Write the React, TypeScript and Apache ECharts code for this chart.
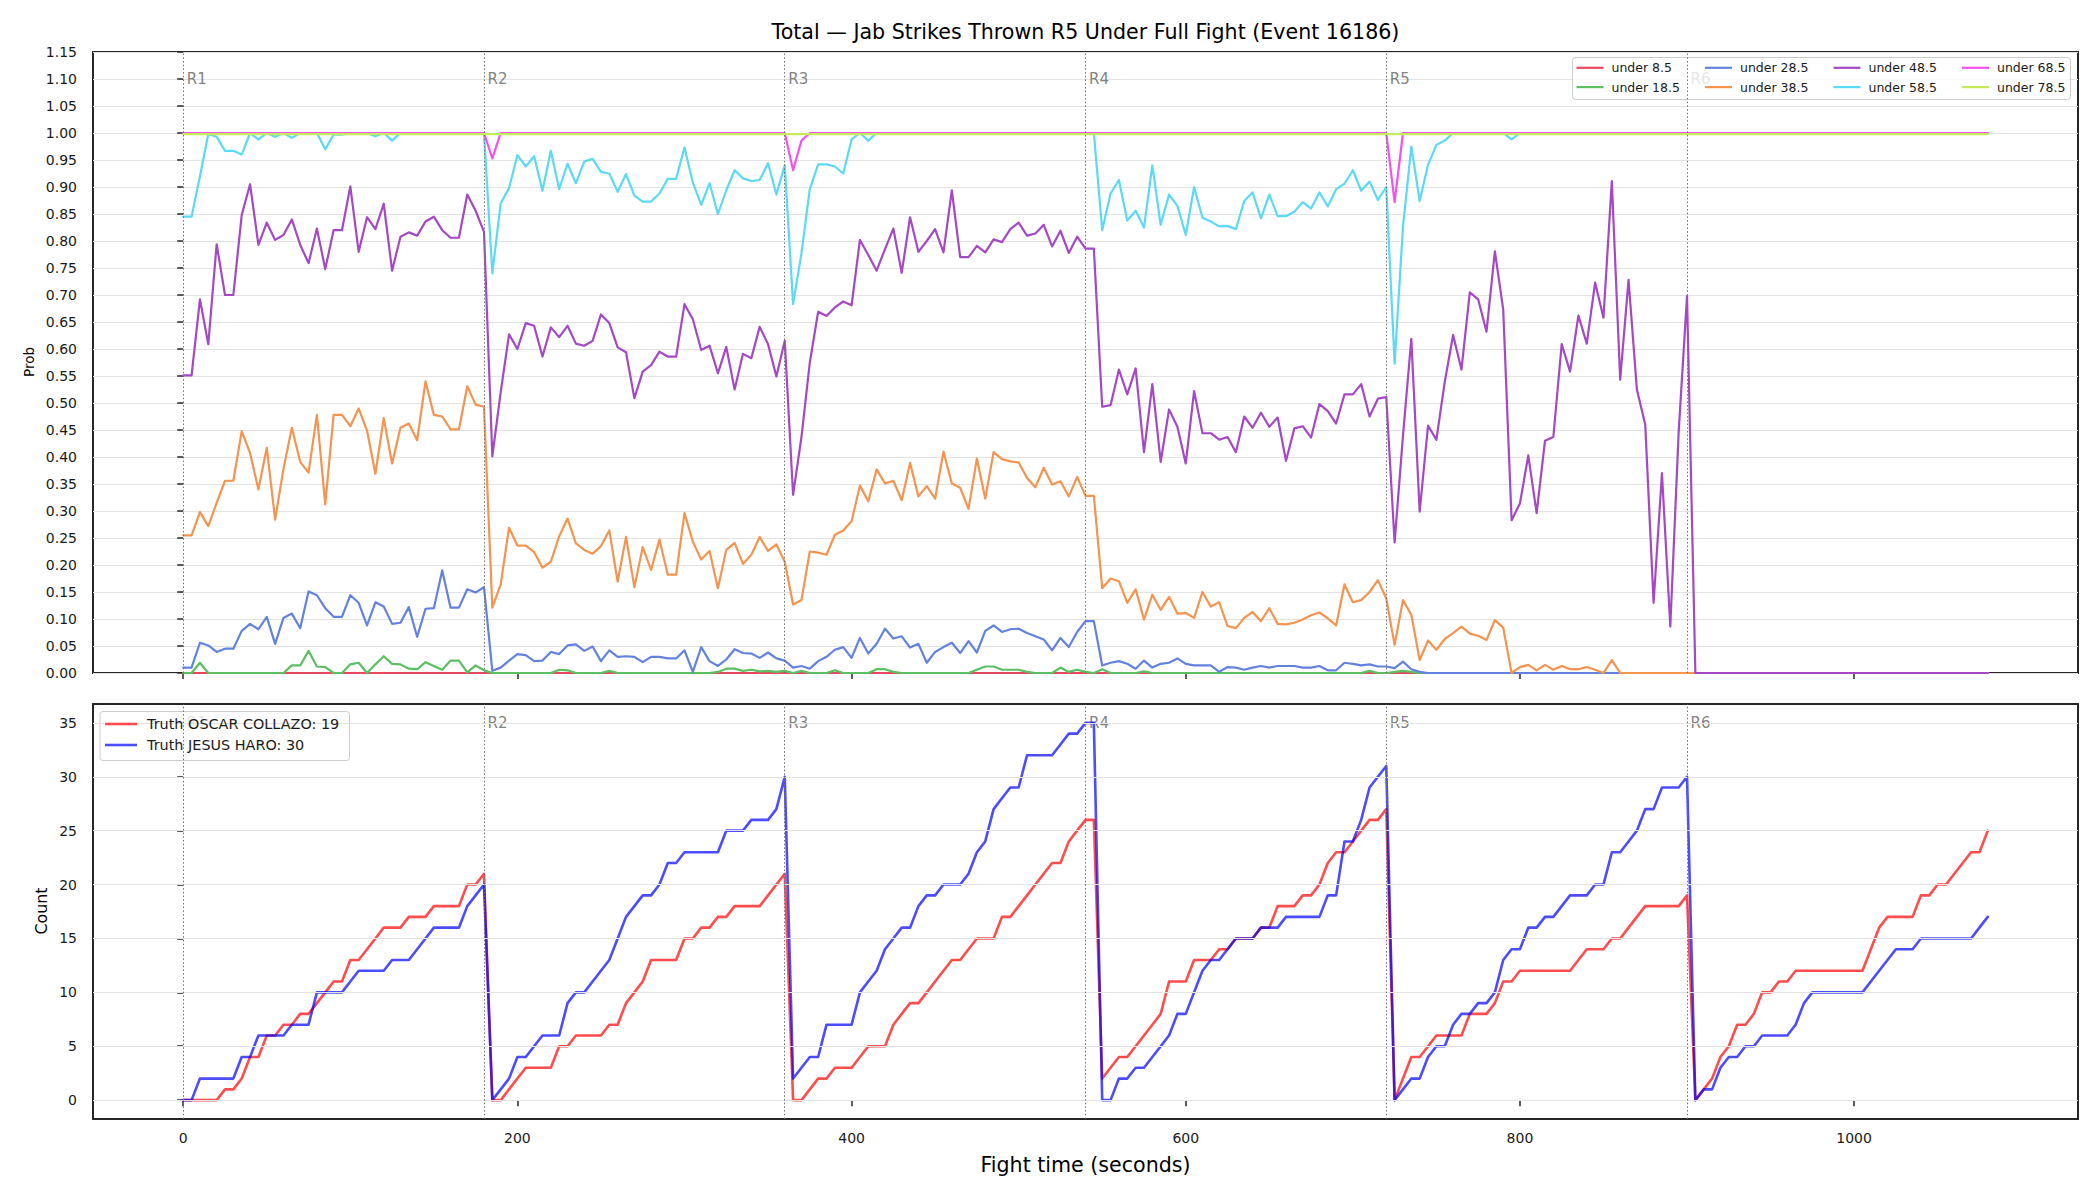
import React, { useEffect, useRef } from "react";
import * as echarts from "echarts";

const FONT = "DejaVu Sans";
const TITLE = "Total — Jab Strikes Thrown R5 Under Full Fight (Event 16186)";
const X_LABEL = "Fight time (seconds)";
const Y_LABEL_TOP = "Prob";
const Y_LABEL_BOTTOM = "Count";

const STEP_SECONDS = 5;
const N_POINTS = 217; // 0..1080 s
const TIMES = Array.from({ length: N_POINTS }, (_, i) => i * STEP_SECONDS);

const ROUND_STARTS = [0, 180, 360, 540, 720, 900];
const ROUND_NAMES = ["R1", "R2", "R3", "R4", "R5", "R6"];
const ROUND_LABEL_Y_TOP = 1.1;
const ROUND_LABEL_Y_BOTTOM = 35;
const X_TICKS = [0, 200, 400, 600, 800, 1000];
const COUNT_TICKS = [0, 5, 10, 15, 20, 25, 30, 35];

const LINE_NAMES = ["under 8.5", "under 18.5", "under 28.5", "under 38.5", "under 48.5", "under 58.5", "under 68.5", "under 78.5"];
const LINE_COLORS = ["#e8475f", "#5cbf62", "#6382e0", "#f5934f", "#a548c6", "#5bd9f5", "#f551ec", "#c6ea5c"];

// constant / sparse lines (read as flat segments)
const U08_POINTS = [[0, 0], [1080, 0]];
const U68_POINTS = [[0, 1], [180, 1], [185, 0.953], [190, 1], [360, 1], [365, 0.931], [370, 0.986], [375, 1], [720, 1], [725, 0.872], [730, 1], [1080, 1]];
const U78_POINTS = [[0, 0.998], [1080, 0.998]];

const U18 = [
  0, 0, 0.019, 0, 0, 0, 0, 0, 0, 0,
  0, 0, 0, 0.014, 0.014, 0.041, 0.012, 0.011, 0, 0,
  0.016, 0.019, 0, 0.016, 0.031, 0.017, 0.016, 0.008, 0.007, 0.02,
  0.013, 0.006, 0.023, 0.023, 0.001, 0.014, 0.005,
  0, 0, 0, 0, 0, 0, 0, 0, 0.006, 0.005,
  0, 0, 0, 0, 0.004, 0, 0, 0, 0, 0,
  0, 0, 0, 0, 0, 0, 0, 0.002, 0.008, 0.008,
  0.004, 0.006, 0.003, 0.004, 0.002, 0.004,
  0, 0.004, 0, 0, 0, 0.005, 0, 0, 0, 0,
  0.007, 0.007, 0.002, 0, 0, 0, 0, 0, 0, 0,
  0, 0, 0.006, 0.012, 0.012, 0.006, 0.006, 0.006, 0.002, 0,
  0, 0, 0.01, 0.002, 0.006, 0.002,
  0, 0.007, 0, 0, 0, 0, 0.003, 0, 0, 0,
  0, 0, 0, 0, 0, 0, 0, 0, 0, 0,
  0, 0, 0, 0, 0, 0, 0, 0, 0, 0,
  0, 0, 0, 0.004, 0, 0,
  0.002, 0.004, 0.002, 0, 0, 0, 0, 0, 0, 0,
  0, 0, 0, 0, 0, 0, 0, 0, 0, 0,
  0, 0, 0, 0, 0, 0, 0, 0, 0, 0,
  0, 0, 0, 0, 0, 0,
  0, 0, 0, 0, 0, 0, 0, 0, 0, 0,
  0, 0, 0, 0, 0, 0, 0, 0, 0, 0,
  0, 0, 0, 0, 0, 0, 0, 0, 0, 0,
  0, 0, 0, 0, 0, 0,
];

const U28 = [
  0.01, 0.01, 0.056, 0.051, 0.039, 0.045, 0.045, 0.078, 0.091, 0.081,
  0.104, 0.054, 0.102, 0.11, 0.083, 0.151, 0.144, 0.12, 0.104, 0.104,
  0.144, 0.13, 0.088, 0.131, 0.123, 0.091, 0.093, 0.122, 0.067, 0.119,
  0.12, 0.19, 0.121, 0.121, 0.155, 0.149, 0.159,
  0.004, 0.01, 0.023, 0.035, 0.033, 0.022, 0.023, 0.039, 0.035, 0.051,
  0.053, 0.041, 0.049, 0.022, 0.042, 0.03, 0.031, 0.03, 0.02, 0.03,
  0.03, 0.027, 0.027, 0.042, 0.002, 0.048, 0.022, 0.013, 0.025, 0.044,
  0.037, 0.036, 0.028, 0.038, 0.027, 0.023,
  0.01, 0.013, 0.008, 0.022, 0.03, 0.043, 0.048, 0.028, 0.065, 0.036,
  0.054, 0.082, 0.064, 0.068, 0.047, 0.054, 0.019, 0.039, 0.048, 0.056,
  0.037, 0.059, 0.038, 0.078, 0.088, 0.076, 0.081, 0.082, 0.074, 0.068,
  0.062, 0.042, 0.065, 0.048, 0.076, 0.096,
  0.096, 0.014, 0.019, 0.022, 0.017, 0.008, 0.023, 0.01, 0.017, 0.019,
  0.027, 0.017, 0.014, 0.014, 0.014, 0.002, 0.011, 0.01, 0.006, 0.01,
  0.013, 0.01, 0.013, 0.013, 0.013, 0.01, 0.01, 0.013, 0.005, 0.005,
  0.019, 0.017, 0.014, 0.016, 0.012, 0.012,
  0.009, 0.021, 0.007, 0.002, 0, 0, 0, 0, 0, 0,
  0, 0, 0, 0, 0, 0, 0, 0, 0, 0,
  0, 0, 0, 0, 0, 0, 0, 0, 0, 0,
  0, 0, 0, 0, 0, 0,
  0, 0, 0, 0, 0, 0, 0, 0, 0, 0,
  0, 0, 0, 0, 0, 0, 0, 0, 0, 0,
  0, 0, 0, 0, 0, 0, 0, 0, 0, 0,
  0, 0, 0, 0, 0, 0,
];

const U38 = [
  0.255, 0.255, 0.298, 0.272, 0.315, 0.356, 0.356, 0.448, 0.407, 0.34,
  0.417, 0.284, 0.378, 0.454, 0.391, 0.371, 0.478, 0.312, 0.478, 0.478,
  0.457, 0.49, 0.449, 0.369, 0.472, 0.388, 0.454, 0.462, 0.431, 0.54,
  0.478, 0.475, 0.451, 0.451, 0.531, 0.497, 0.493,
  0.121, 0.164, 0.269, 0.236, 0.236, 0.224, 0.195, 0.206, 0.253, 0.286,
  0.24, 0.228, 0.221, 0.235, 0.264, 0.169, 0.252, 0.159, 0.233, 0.191,
  0.247, 0.182, 0.182, 0.296, 0.243, 0.21, 0.226, 0.157, 0.228, 0.241,
  0.202, 0.219, 0.252, 0.226, 0.238, 0.206,
  0.127, 0.135, 0.225, 0.223, 0.219, 0.256, 0.264, 0.281, 0.347, 0.318,
  0.377, 0.351, 0.356, 0.32, 0.389, 0.327, 0.346, 0.323, 0.41, 0.351,
  0.343, 0.304, 0.397, 0.323, 0.409, 0.396, 0.392, 0.39, 0.361, 0.344,
  0.38, 0.349, 0.355, 0.327, 0.363, 0.328,
  0.328, 0.157, 0.175, 0.17, 0.13, 0.155, 0.099, 0.145, 0.117, 0.141,
  0.11, 0.111, 0.102, 0.15, 0.123, 0.131, 0.087, 0.083, 0.102, 0.113,
  0.096, 0.12, 0.091, 0.09, 0.093, 0.099, 0.107, 0.112, 0.101, 0.088,
  0.164, 0.131, 0.135, 0.15, 0.172, 0.138,
  0.052, 0.135, 0.108, 0.024, 0.06, 0.043, 0.063, 0.074, 0.086, 0.073,
  0.069, 0.061, 0.098, 0.084, 0, 0.011, 0.015, 0.005, 0.015, 0.006,
  0.013, 0.007, 0.007, 0.011, 0.006, 0, 0.024, 0, 0, 0,
  0, 0, 0, 0, 0, 0,
  0, 0, 0, 0, 0, 0, 0, 0, 0, 0,
  0, 0, 0, 0, 0, 0, 0, 0, 0, 0,
  0, 0, 0, 0, 0, 0, 0, 0, 0, 0,
  0, 0, 0, 0, 0, 0,
];

const U48 = [
  0.551, 0.551, 0.692, 0.609, 0.794, 0.7, 0.7, 0.848, 0.905, 0.793,
  0.834, 0.802, 0.811, 0.84, 0.793, 0.759, 0.823, 0.748, 0.82, 0.82,
  0.901, 0.78, 0.844, 0.822, 0.869, 0.745, 0.808, 0.816, 0.81, 0.836,
  0.845, 0.82, 0.806, 0.806, 0.886, 0.856, 0.817,
  0.401, 0.52, 0.627, 0.6, 0.648, 0.643, 0.586, 0.64, 0.622, 0.643,
  0.61, 0.606, 0.615, 0.664, 0.648, 0.603, 0.594, 0.509, 0.558, 0.57,
  0.595, 0.586, 0.586, 0.683, 0.655, 0.598, 0.606, 0.555, 0.604, 0.525,
  0.591, 0.583, 0.641, 0.609, 0.549, 0.615,
  0.33, 0.437, 0.575, 0.669, 0.661, 0.677, 0.688, 0.681, 0.802, 0.774,
  0.745, 0.785, 0.823, 0.741, 0.844, 0.78, 0.8, 0.822, 0.779, 0.894,
  0.77, 0.77, 0.791, 0.779, 0.803, 0.798, 0.822, 0.834, 0.81, 0.814,
  0.83, 0.79, 0.819, 0.778, 0.808, 0.786,
  0.786, 0.493, 0.496, 0.562, 0.516, 0.564, 0.409, 0.535, 0.391, 0.488,
  0.456, 0.388, 0.522, 0.444, 0.444, 0.432, 0.437, 0.409, 0.475, 0.454,
  0.482, 0.456, 0.473, 0.393, 0.453, 0.457, 0.436, 0.498, 0.485, 0.462,
  0.516, 0.516, 0.535, 0.475, 0.508, 0.511,
  0.242, 0.439, 0.619, 0.299, 0.458, 0.432, 0.539, 0.626, 0.562, 0.705,
  0.692, 0.632, 0.781, 0.673, 0.283, 0.314, 0.403, 0.296, 0.43, 0.437,
  0.609, 0.558, 0.662, 0.61, 0.723, 0.658, 0.911, 0.543, 0.728, 0.525,
  0.46, 0.13, 0.37, 0.086, 0.446, 0.698,
  0, 0, 0, 0, 0, 0, 0, 0, 0, 0,
  0, 0, 0, 0, 0, 0, 0, 0, 0, 0,
  0, 0, 0, 0, 0, 0, 0, 0, 0, 0,
  0, 0, 0, 0, 0, 0,
];

const U58 = [
  0.845, 0.845, 0.92, 0.998, 0.993, 0.967, 0.967, 0.96, 1, 0.988,
  1, 0.993, 1, 0.991, 1, 1, 1, 0.97, 0.997, 0.997,
  1, 1, 1, 0.994, 1, 0.986, 1, 1, 1, 1,
  1, 1, 1, 1, 1, 1, 1,
  0.74, 0.87, 0.898, 0.959, 0.938, 0.957, 0.893, 0.967, 0.896, 0.943,
  0.907, 0.947, 0.952, 0.928, 0.925, 0.891, 0.924, 0.884, 0.873, 0.873,
  0.888, 0.915, 0.915, 0.973, 0.908, 0.867, 0.907, 0.85, 0.894, 0.931,
  0.916, 0.911, 0.913, 0.944, 0.886, 0.94,
  0.683, 0.777, 0.896, 0.942, 0.942, 0.938, 0.925, 0.988, 1, 0.986,
  1, 1, 1, 1, 1, 1, 1, 1, 1, 1,
  1, 1, 1, 1, 1, 1, 1, 1, 1, 1,
  1, 1, 1, 1, 1, 1,
  1, 0.82, 0.888, 0.913, 0.838, 0.856, 0.825, 0.94, 0.83, 0.886,
  0.865, 0.811, 0.9, 0.843, 0.836, 0.827, 0.828, 0.822, 0.874, 0.89,
  0.842, 0.886, 0.846, 0.846, 0.854, 0.872, 0.86, 0.89, 0.864, 0.896,
  0.906, 0.931, 0.893, 0.91, 0.876, 0.9,
  0.573, 0.826, 0.975, 0.874, 0.941, 0.978, 0.986, 1, 1, 1,
  1, 1, 1, 1, 0.988, 1, 1, 1, 1, 1,
  1, 1, 1, 1, 1, 1, 1, 1, 1, 1,
  1, 1, 1, 1, 1, 1,
  1, 1, 1, 1, 1, 1, 1, 1, 1, 1,
  1, 1, 1, 1, 1, 1, 1, 1, 1, 1,
  1, 1, 1, 1, 1, 1, 1, 1, 1, 1,
  1, 1, 1, 1, 1, 1,
];

const COUNT_OSCAR = [
  0, 0, 0, 0, 0, 1, 1, 2, 4, 4,
  6, 6, 7, 7, 8, 8, 9, 10, 11, 11,
  13, 13, 14, 15, 16, 16, 16, 17, 17, 17,
  18, 18, 18, 18, 20, 20, 21,
  0, 0, 1, 2, 3, 3, 3, 3, 5, 5,
  6, 6, 6, 6, 7, 7, 9, 10, 11, 13,
  13, 13, 13, 15, 15, 16, 16, 17, 17, 18,
  18, 18, 18, 19, 20, 21,
  0, 0, 1, 2, 2, 3, 3, 3, 4, 5,
  5, 5, 7, 8, 9, 9, 10, 11, 12, 13,
  13, 14, 15, 15, 15, 17, 17, 18, 19, 20,
  21, 22, 22, 24, 25, 26,
  26, 2, 3, 4, 4, 5, 6, 7, 8, 11,
  11, 11, 13, 13, 13, 14, 14, 15, 15, 15,
  16, 16, 18, 18, 18, 19, 19, 20, 22, 23,
  23, 24, 25, 26, 26, 27,
  0, 2, 4, 4, 5, 6, 6, 6, 6, 8,
  8, 8, 9, 11, 11, 12, 12, 12, 12, 12,
  12, 12, 13, 14, 14, 14, 15, 15, 16, 17,
  18, 18, 18, 18, 18, 19,
  0, 1, 2, 4, 5, 7, 7, 8, 10, 10,
  11, 11, 12, 12, 12, 12, 12, 12, 12, 12,
  12, 14, 16, 17, 17, 17, 17, 19, 19, 20,
  20, 21, 22, 23, 23, 25,
];

const COUNT_JESUS = [
  0, 0, 2, 2, 2, 2, 2, 4, 4, 6,
  6, 6, 6, 7, 7, 7, 10, 10, 10, 10,
  11, 12, 12, 12, 12, 13, 13, 13, 14, 15,
  16, 16, 16, 16, 18, 19, 20,
  0, 1, 2, 4, 4, 5, 6, 6, 6, 9,
  10, 10, 11, 12, 13, 15, 17, 18, 19, 19,
  20, 22, 22, 23, 23, 23, 23, 23, 25, 25,
  25, 26, 26, 26, 27, 30,
  2, 3, 4, 4, 7, 7, 7, 7, 10, 11,
  12, 14, 15, 16, 16, 18, 19, 19, 20, 20,
  20, 21, 23, 24, 27, 28, 29, 29, 32, 32,
  32, 32, 33, 34, 34, 35,
  35, 0, 0, 2, 2, 3, 3, 4, 5, 6,
  8, 8, 10, 12, 13, 13, 14, 15, 15, 15,
  16, 16, 16, 17, 17, 17, 17, 17, 19, 19,
  24, 24, 26, 29, 30, 31,
  0, 1, 2, 2, 4, 5, 5, 7, 8, 8,
  9, 9, 10, 13, 14, 14, 16, 16, 17, 17,
  18, 19, 19, 19, 20, 20, 23, 23, 24, 25,
  27, 27, 29, 29, 29, 30,
  0, 1, 1, 3, 4, 4, 5, 5, 6, 6,
  6, 6, 7, 9, 10, 10, 10, 10, 10, 10,
  10, 11, 12, 13, 14, 14, 14, 15, 15, 15,
  15, 15, 15, 15, 16, 17,
];

const COUNT_NAMES = ["Truth OSCAR COLLAZO: 19", "Truth JESUS HARO: 30"];
const COUNT_COLORS = ["#ff0000", "#0000ff"];
const COUNT_LEGEND_COLORS = ["#ff4d4d", "#4d4dff"];

const pair = (vals: number[]) => vals.map((v, i) => [TIMES[i], v]);

const TEXT_COLOR = "#1a1a1a";
const SPINE = "#262626";
const ICON_TOP = "path://M0,0 L27,0 L27,2.2 L0,2.2 Z";
const ICON_BOTTOM = "path://M0,0 L32,0 L32,2.6 L0,2.6 Z";

function buildOption(): any {
  const probData = [U08_POINTS, pair(U18), pair(U28), pair(U38), pair(U48), pair(U58), U68_POINTS, U78_POINTS];
  const countData = [pair(COUNT_OSCAR), pair(COUNT_JESUS)];

  const tickStyle = { show: true, length: 6, lineStyle: { color: SPINE, width: 1.5 } };
  const labelBase = { color: TEXT_COLOR, fontSize: 14, fontFamily: FONT };

  const series: any[] = [];

  [0, 1].forEach((g) => {
    const markData: any[] = ROUND_STARTS.map((x) => ({ xAxis: x, lineStyle: { type: [1.5, 2.2], color: "#707070", width: 1 } }));
    if (g === 1) {
      COUNT_TICKS.forEach((v) => markData.unshift({ yAxis: v, lineStyle: { type: "solid", color: "#e3e3e3", width: 1 } }));
    }
    series.push({
      type: "line",
      name: "_helper" + g,
      xAxisIndex: g,
      yAxisIndex: g,
      data: [[0, 0]],
      symbol: "none",
      lineStyle: { width: 0, opacity: 0 },
      silent: true,
      z: 1,
      markLine: {
        silent: true,
        symbol: ["none", "none"],
        label: { show: false },
        animation: false,
        data: markData,
      },
    });
    series.push({
      type: "scatter",
      name: "_rounds" + g,
      xAxisIndex: g,
      yAxisIndex: g,
      data: ROUND_STARTS.map((x, i) => ({ value: [x, g === 0 ? ROUND_LABEL_Y_TOP : ROUND_LABEL_Y_BOTTOM], name: ROUND_NAMES[i] })),
      symbolSize: 1,
      itemStyle: { color: "rgba(0,0,0,0)" },
      silent: true,
      z: 2,
      label: {
        show: true,
        position: "right",
        distance: 3,
        formatter: "{b}",
        color: "#606060",
        fontSize: 15,
        fontFamily: FONT,
      },
    });
  });

  LINE_NAMES.forEach((name, i) => {
    series.push({
      type: "line",
      name,
      xAxisIndex: 0,
      yAxisIndex: 0,
      data: probData[i],
      symbol: "none",
      showSymbol: false,
      color: LINE_COLORS[i],
      lineStyle: { width: 2.2, color: LINE_COLORS[i], join: "round", cap: "round" },
      z: 3,
      silent: true,
    });
  });

  COUNT_NAMES.forEach((name, i) => {
    series.push({
      type: "line",
      name,
      xAxisIndex: 1,
      yAxisIndex: 1,
      data: countData[i],
      symbol: "none",
      showSymbol: false,
      color: COUNT_COLORS[i],
      lineStyle: { width: 2.6, color: COUNT_COLORS[i], opacity: 0.7, join: "round", cap: "round" },
      z: 3,
      silent: true,
    });
  });

  const legendCols = [1576.5, 1705, 1833.5, 1962];
  const legendRows = [61.3, 80.6];
  const legends: any[] = LINE_NAMES.map((name, i) => ({
    data: [{ name, icon: ICON_TOP, itemStyle: { color: LINE_COLORS[i] } }],
    left: legendCols[Math.floor(i / 2)],
    top: legendRows[i % 2],
    padding: 0,
    itemWidth: 27,
    itemHeight: 14,
    itemGap: 0,
    symbolKeepAspect: true,
    selectedMode: false,
    z: 6,
    textStyle: { fontSize: 12.5, color: TEXT_COLOR, fontFamily: FONT, padding: [0, 0, 0, 3] },
  }));
  COUNT_NAMES.forEach((name, i) => {
    legends.push({
      data: [{ name, icon: ICON_BOTTOM, itemStyle: { color: COUNT_LEGEND_COLORS[i] } }],
      left: 105,
      top: [717, 738][i],
      padding: 0,
      itemWidth: 32,
      itemHeight: 14,
      itemGap: 0,
      symbolKeepAspect: true,
      selectedMode: false,
      z: 6,
      textStyle: { fontSize: 14.4, color: TEXT_COLOR, fontFamily: FONT, padding: [0, 0, 0, 5] },
    });
  });

  return {
    animation: false,
    backgroundColor: "#ffffff",
    textStyle: { fontFamily: FONT },
    grid: [
      { left: 93, top: 52, width: 1985, height: 621, show: true, borderColor: SPINE, borderWidth: 2, backgroundColor: "transparent" },
      { left: 93, top: 704, width: 1985, height: 415, show: true, borderColor: SPINE, borderWidth: 2, backgroundColor: "transparent" },
    ],
    xAxis: [
      {
        gridIndex: 0,
        type: "value",
        min: -54,
        max: 1134,
        axisLine: { show: false },
        axisTick: { ...tickStyle, customValues: X_TICKS },
        axisLabel: { show: false },
        splitLine: { show: false },
      },
      {
        gridIndex: 1,
        type: "value",
        min: -54,
        max: 1134,
        axisLine: { show: false },
        axisTick: { ...tickStyle, customValues: X_TICKS },
        axisLabel: { ...labelBase, show: true, margin: 12, customValues: X_TICKS, formatter: (v: number) => String(v) },
        splitLine: { show: false },
      },
    ],
    yAxis: [
      {
        gridIndex: 0,
        type: "value",
        min: 0,
        max: 1.15,
        interval: 0.05,
        axisLine: { show: false },
        axisTick: tickStyle,
        axisLabel: { ...labelBase, margin: 16, formatter: (v: number) => v.toFixed(2) },
        splitLine: { show: true, lineStyle: { color: "#e3e3e3", width: 1 } },
      },
      {
        gridIndex: 1,
        type: "value",
        min: -1.75,
        max: 36.75,
        axisLine: { show: false },
        axisTick: { ...tickStyle, customValues: COUNT_TICKS },
        axisLabel: { ...labelBase, margin: 16, customValues: COUNT_TICKS, formatter: (v: number) => String(v) },
        splitLine: { show: false },
      },
    ],
    legend: legends,
    graphic: [
      {
        type: "rect",
        z: 5,
        silent: true,
        shape: { x: 1572.5, y: 57.5, width: 498, height: 42, r: 3 },
        style: { fill: "rgba(255,255,255,0.8)", stroke: "#cccccc", lineWidth: 1 },
      },
      {
        type: "rect",
        z: 5,
        silent: true,
        shape: { x: 100, y: 711.5, width: 249.5, height: 49, r: 3 },
        style: { fill: "rgba(255,255,255,0.8)", stroke: "#cccccc", lineWidth: 1 },
      },
      {
        type: "text",
        x: 1085.5,
        y: 31.7,
        style: { text: TITLE, fontSize: 20.6, fontFamily: FONT, fill: "#000000", textAlign: "center", textVerticalAlign: "middle", align: "center", verticalAlign: "middle" },
      },
      {
        type: "text",
        x: 1085.5,
        y: 1165,
        style: { text: X_LABEL, fontSize: 20.6, fontFamily: FONT, fill: "#000000", textAlign: "center", textVerticalAlign: "middle", align: "center", verticalAlign: "middle" },
      },
      {
        type: "text",
        x: 28.6,
        y: 362,
        rotation: Math.PI / 2,
        style: { text: Y_LABEL_TOP, fontSize: 13.5, fontFamily: FONT, fill: "#000000", textAlign: "center", textVerticalAlign: "middle", align: "center", verticalAlign: "middle" },
      },
      {
        type: "text",
        x: 41,
        y: 911,
        rotation: Math.PI / 2,
        style: { text: Y_LABEL_BOTTOM, fontSize: 15.9, fontFamily: FONT, fill: "#000000", textAlign: "center", textVerticalAlign: "middle", align: "center", verticalAlign: "middle" },
      },
    ],
    series,
  };
}

export default function App() {
  const ref = useRef<HTMLDivElement>(null);
  useEffect(() => {
    if (!ref.current) return;
    const chart = echarts.init(ref.current, null, { renderer: "svg" });
    chart.setOption(buildOption());
    return () => chart.dispose();
  }, []);
  return <div ref={ref} style={{ position: "absolute", left: 0, top: 0, width: 2100, height: 1200, background: "#fff" }} />;
}
